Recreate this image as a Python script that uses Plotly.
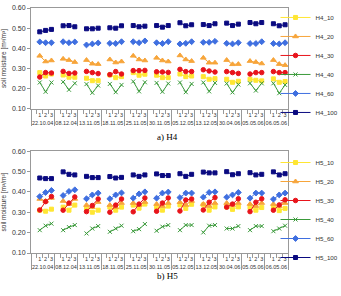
import plotly.graph_objects as go

dates = ["22.10.04", "08.12.04", "13.11.05", "18.11.05", "25.11.05", "30.11.05",
         "05.12.05", "13.12.05", "30.04.06", "05.05.06", "06.05.06"]
subs = [" ", "1", "2", "3"]

# H4 series (3 values per date)
H4_10 = [0.280, 0.263, 0.273, 0.268, 0.257, 0.257, 0.252, 0.240, 0.240, 0.268, 0.255, 0.260,
         0.280, 0.267, 0.272, 0.267, 0.255, 0.255, 0.273, 0.260, 0.263, 0.260, 0.247, 0.250,
         0.247, 0.232, 0.237, 0.247, 0.242, 0.239, 0.249, 0.232, 0.236]
H4_20 = [0.363, 0.335, 0.340, 0.348, 0.342, 0.332, 0.342, 0.324, 0.322, 0.345, 0.330, 0.335,
         0.363, 0.345, 0.340, 0.353, 0.340, 0.335, 0.365, 0.345, 0.337, 0.353, 0.329, 0.329,
         0.342, 0.321, 0.322, 0.337, 0.332, 0.325, 0.342, 0.322, 0.317]
H4_30 = [0.258, 0.280, 0.278, 0.286, 0.276, 0.278, 0.286, 0.280, 0.275, 0.270, 0.285, 0.273,
         0.290, 0.290, 0.291, 0.284, 0.283, 0.281, 0.296, 0.285, 0.285, 0.294, 0.288, 0.283,
         0.285, 0.280, 0.276, 0.273, 0.280, 0.280, 0.285, 0.280, 0.280]
H4_40 = [0.231, 0.185, 0.231, 0.234, 0.195, 0.227, 0.223, 0.180, 0.216, 0.224, 0.183, 0.219,
         0.236, 0.187, 0.232, 0.229, 0.185, 0.226, 0.231, 0.183, 0.224, 0.231, 0.187, 0.229,
         0.226, 0.182, 0.221, 0.227, 0.191, 0.227, 0.227, 0.178, 0.219]
H4_60 = [0.432, 0.428, 0.428, 0.433, 0.428, 0.432, 0.417, 0.422, 0.427, 0.425, 0.424, 0.433,
         0.433, 0.428, 0.437, 0.428, 0.424, 0.433, 0.422, 0.425, 0.433, 0.430, 0.430, 0.435,
         0.425, 0.422, 0.428, 0.424, 0.424, 0.433, 0.424, 0.422, 0.428]
H4_100 = [0.482, 0.489, 0.494, 0.512, 0.513, 0.507, 0.497, 0.497, 0.500, 0.502, 0.500, 0.512,
          0.513, 0.507, 0.510, 0.513, 0.505, 0.513, 0.527, 0.512, 0.517, 0.518, 0.513, 0.522,
          0.525, 0.513, 0.520, 0.528, 0.522, 0.528, 0.522, 0.512, 0.517]

# H5 series
H5_10 = [0.310, 0.305, 0.315, 0.325, 0.310, 0.335, 0.320, 0.300, 0.310, 0.325, 0.310, 0.325,
         0.335, 0.320, 0.340, 0.325, 0.310, 0.330, 0.336, 0.319, 0.339, 0.336, 0.310, 0.326,
         0.326, 0.314, 0.326, 0.323, 0.310, 0.323, 0.328, 0.308, 0.319]
H5_20 = [0.365, 0.355, 0.370, 0.355, 0.340, 0.365, 0.335, 0.325, 0.350, 0.335, 0.325, 0.345,
         0.345, 0.335, 0.350, 0.340, 0.330, 0.345, 0.349, 0.336, 0.355, 0.340, 0.330, 0.345,
         0.345, 0.335, 0.345, 0.340, 0.330, 0.345, 0.340, 0.330, 0.345]
H5_30 = [0.311, 0.352, 0.377, 0.310, 0.345, 0.375, 0.303, 0.333, 0.365, 0.300, 0.335, 0.365,
         0.302, 0.340, 0.370, 0.305, 0.345, 0.370, 0.306, 0.360, 0.365, 0.311, 0.349, 0.372,
         0.325, 0.340, 0.366, 0.303, 0.349, 0.366, 0.310, 0.336, 0.361]
H5_40 = [0.212, 0.234, 0.244, 0.212, 0.227, 0.237, 0.196, 0.220, 0.232, 0.204, 0.220, 0.234,
         0.207, 0.217, 0.242, 0.209, 0.229, 0.237, 0.212, 0.237, 0.237, 0.201, 0.234, 0.237,
         0.220, 0.220, 0.232, 0.212, 0.232, 0.232, 0.207, 0.220, 0.234]
H5_60 = [0.377, 0.397, 0.407, 0.382, 0.402, 0.410, 0.366, 0.385, 0.394, 0.366, 0.385, 0.395,
         0.369, 0.390, 0.400, 0.369, 0.394, 0.399, 0.372, 0.394, 0.394, 0.374, 0.397, 0.400,
         0.374, 0.385, 0.397, 0.369, 0.394, 0.394, 0.364, 0.385, 0.394]
H5_100 = [0.468, 0.465, 0.465, 0.498, 0.486, 0.483, 0.476, 0.470, 0.470, 0.475, 0.468, 0.471,
          0.483, 0.476, 0.483, 0.488, 0.480, 0.480, 0.489, 0.476, 0.486, 0.497, 0.493, 0.493,
          0.499, 0.484, 0.489, 0.494, 0.483, 0.486, 0.498, 0.483, 0.489]

yticks = [0.10, 0.20, 0.30, 0.40, 0.50, 0.60]

styles = [
    ("10", "#FFE633", "square", 4),
    ("20", "#F7A53A", "triangle-up", 5),
    ("30", "#E8141B", "circle", 4.5),
    ("40", "#3A9A3A", "x-thin-open", 4),
    ("60", "#3F6FE0", "diamond", 4.5),
    ("100", "#0A0A80", "square", 4),
]

xcat0 = [d for d in dates for s in subs]
xcat1 = [s for d in dates for s in subs]


def expand(vals):
    out = []
    for i in range(len(dates)):
        out.append(None)
        out.extend(vals[3 * i:3 * i + 3])
    return out


h4 = [H4_10, H4_20, H4_30, H4_40, H4_60, H4_100]
h5 = [H5_10, H5_20, H5_30, H5_40, H5_60, H5_100]

fig = go.Figure()
for (suf, col, sym, sz), vals in zip(styles, h4):
    fig.add_trace(go.Scatter(
        x=[xcat0, xcat1], y=expand(vals), mode="lines+markers", name="H4_" + suf,
        line=dict(color=col, width=1), marker=dict(symbol=sym, size=sz, color=col,
                                                   line=dict(color=col, width=1)),
        xaxis="x", yaxis="y", legend="legend"))
for (suf, col, sym, sz), vals in zip(styles, h5):
    fig.add_trace(go.Scatter(
        x=[xcat0, xcat1], y=expand(vals), mode="lines+markers", name="H5_" + suf,
        line=dict(color=col, width=1), marker=dict(symbol=sym, size=sz, color=col,
                                                   line=dict(color=col, width=1)),
        xaxis="x2", yaxis="y2", legend="legend2"))

tickfont = dict(family="Liberation Sans, Arial", size=5.5, color="#333")
xcommon = dict(type="multicategory", range=[-0.5, len(xcat0) - 0.5], showline=True,
               linecolor="#999", linewidth=1, mirror=True, ticks="outside", tickson="boundaries",
               ticklen=4, tickcolor="#999", showdividers=True, dividercolor="#999",
               dividerwidth=1, tickfont=tickfont, tickangle=0, tickmode="linear", tick0=0,
               dtick=1, showgrid=False, zeroline=False)
ycommon = dict(range=[0.10, 0.60], tickvals=yticks, tickformat=".2f", showline=True,
               linecolor="#999", linewidth=1, mirror=True, ticks="outside", ticklen=3,
               tickcolor="#999", showgrid=False, zeroline=False,
               tickfont=dict(family="Liberation Sans, Arial", size=7, color="#333"),
               title=dict(text="soil moisture [m³/m³]", standoff=4,
                          font=dict(family="Liberation Sans, Arial", size=6.5, color="#333")))

legfont = dict(family="Liberation Sans, Arial", size=6.2, color="#333")
fig.update_layout(
    width=341, height=296, margin=dict(l=31, r=53, t=8, b=43, autoexpand=False),
    paper_bgcolor="white", plot_bgcolor="white",
    xaxis=dict(domain=[0, 1], anchor="y", **xcommon),
    yaxis=dict(domain=[0.588, 1], anchor="x", **ycommon),
    xaxis2=dict(domain=[0, 1], anchor="y2", **xcommon),
    yaxis2=dict(domain=[0, 0.416], anchor="x2", **ycommon),
    legend=dict(xref="container", yref="container", x=0.808, xanchor="left",
                y=0.99, yanchor="top", font=legfont,
                bgcolor="rgba(0,0,0,0)", itemwidth=30, tracegroupgap=0),
    legend2=dict(xref="container", yref="container", x=0.808, xanchor="left",
                 y=0.5, yanchor="top", font=legfont,
                 bgcolor="rgba(0,0,0,0)", itemwidth=30, tracegroupgap=0),
    annotations=[
        dict(text="a) H4", x=0.53, y=(253 - 137) / 245, xref="paper", yref="paper",
             showarrow=False, font=dict(family="Liberation Serif, Times New Roman", size=9,
                                         color="black")),
        dict(text="b) H5", x=0.53, y=(253 - 283) / 245, xref="paper", yref="paper",
             showarrow=False, font=dict(family="Liberation Serif, Times New Roman", size=9,
                                         color="black")),
    ],
)

fig.write_html("out.html")
